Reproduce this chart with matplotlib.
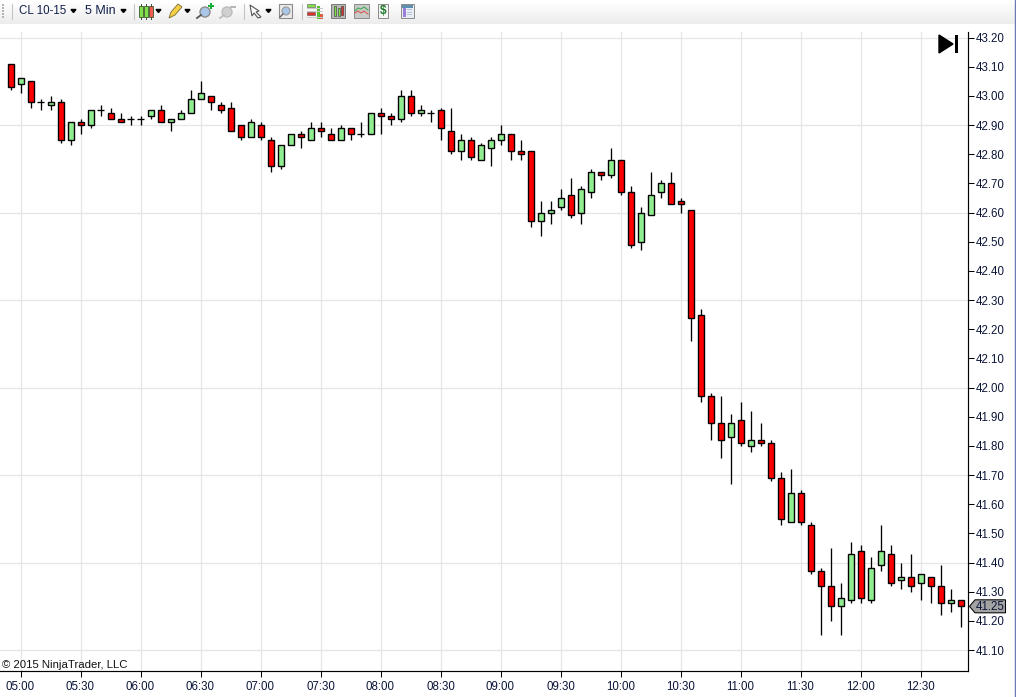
import matplotlib
matplotlib.use("Agg")
import matplotlib.pyplot as plt
from matplotlib.patches import Rectangle, Polygon, Circle
import numpy as np

plt.rcParams['font.family'] = ['Liberation Sans', 'DejaVu Sans']

opens = [43.11,43.04,43.05,42.98,42.97,42.98,42.85,42.91,42.90,42.95,42.94,42.92,42.92,42.92,42.93,42.95,42.91,42.92,42.94,42.99,
         43.00,42.97,42.96,42.90,42.86,42.90,42.85,42.76,42.83,42.87,42.85,42.89,42.87,42.85,42.89,42.87,42.87,42.94,42.93,42.92,
         43.00,42.94,42.94,42.95,42.88,42.81,42.85,42.78,42.82,42.85,42.87,42.81,42.81,42.57,42.60,42.62,42.66,42.60,42.67,42.74,
         42.73,42.78,42.67,42.50,42.59,42.67,42.70,42.64,42.61,42.25,41.97,41.88,41.83,41.89,41.80,41.82,41.81,41.69,41.54,41.64,
         41.53,41.37,41.32,41.25,41.27,41.44,41.27,41.39,41.43,41.34,41.35,41.33,41.35,41.32,41.26,41.27]
highs = [43.11,43.06,43.05,42.99,43.00,42.99,42.91,42.92,42.95,42.97,42.96,42.94,42.93,42.93,42.95,42.97,42.92,42.95,43.02,43.05,
         43.00,42.98,42.98,42.90,42.92,42.91,42.86,42.83,42.87,42.88,42.91,42.91,42.89,42.90,42.89,42.91,42.94,42.96,42.94,43.02,
         43.02,42.97,42.95,42.96,42.96,42.87,42.86,42.84,42.86,42.90,42.87,42.85,42.81,42.64,42.64,42.68,42.72,42.69,42.75,42.74,
         42.82,42.78,42.69,42.62,42.74,42.71,42.74,42.65,42.61,42.27,41.98,41.97,41.91,41.95,41.92,41.88,41.82,41.71,41.72,41.65,
         41.54,41.38,41.45,41.33,41.47,41.46,41.42,41.53,41.46,41.40,41.43,41.36,41.35,41.39,41.31,41.27]
lows = [43.02,43.01,42.96,42.95,42.95,42.84,42.83,42.87,42.89,42.93,42.92,42.91,42.90,42.90,42.92,42.91,42.88,42.92,42.94,42.99,
        42.95,42.94,42.88,42.85,42.86,42.85,42.74,42.75,42.83,42.82,42.85,42.86,42.85,42.85,42.85,42.86,42.87,42.87,42.90,42.91,
        42.93,42.93,42.91,42.85,42.80,42.78,42.78,42.78,42.76,42.83,42.78,42.78,42.55,42.52,42.56,42.61,42.58,42.56,42.65,42.71,
        42.72,42.66,42.48,42.47,42.59,42.65,42.63,42.60,42.16,41.95,41.82,41.76,41.67,41.80,41.78,41.80,41.68,41.53,41.54,41.53,
        41.36,41.15,41.20,41.15,41.26,41.26,41.26,41.37,41.32,41.31,41.30,41.27,41.26,41.22,41.23,41.18]
closes = [43.03,43.06,42.98,42.98,42.98,42.85,42.91,42.90,42.95,42.95,42.92,42.91,42.92,42.92,42.95,42.91,42.92,42.94,42.99,43.01,
          42.98,42.95,42.88,42.86,42.91,42.86,42.76,42.83,42.87,42.86,42.89,42.88,42.85,42.89,42.87,42.87,42.94,42.93,42.92,43.00,
          42.94,42.95,42.94,42.89,42.81,42.85,42.79,42.83,42.85,42.87,42.81,42.80,42.57,42.60,42.61,42.65,42.59,42.68,42.74,42.73,
          42.78,42.67,42.49,42.60,42.66,42.70,42.63,42.63,42.24,41.97,41.88,41.82,41.88,41.81,41.82,41.81,41.69,41.55,41.64,41.54,
          41.37,41.32,41.25,41.28,41.43,41.28,41.38,41.44,41.33,41.35,41.32,41.36,41.32,41.26,41.27,41.25]
time_labels = ["05:00","05:30","06:00","06:30","07:00","07:30","08:00","08:30","09:00",
               "09:30","10:00","10:30","11:00","11:30","12:00","12:30"]
price_ticks = [41.10,41.20,41.30,41.40,41.50,41.60,41.70,41.80,41.90,42.00,
               42.10,42.20,42.30,42.40,42.50,42.60,42.70,42.80,42.90,43.00,43.10,43.20]
grid_prices = [41.10,41.40,41.70,42.00,42.30,42.60,42.90,43.20]
last_price = 41.25
instrument = "CL 10-15"
period = "5 Min"
copyright_text = "\u00a9 2015 NinjaTrader, LLC"

W, H = 1016, 697
fig = plt.figure(figsize=(W/100, H/100), dpi=100, facecolor='white')
L, R, T, B = 0, 968, 32, 671
ax = fig.add_axes([L/W, 1-B/H, (R-L)/W, (B-T)/H])
PX = 10.0
PY = 291.7
X0, Y0 = 10.5, 37.5
ax.set_xlim((L-X0)/PX, (R-X0)/PX)
ax.set_ylim(43.20-(B-Y0)/PY, 43.20+(Y0-T)/PY)

TXT = '#0b1538'
xt = np.arange(len(time_labels))*6+1
ax.set_xticks(xt, time_labels)
ax.set_yticks(price_ticks, [f"{v:.2f}" for v in price_ticks])
ax.yaxis.tick_right()
ax.tick_params(axis='x', length=4.3, width=0.75, pad=3, labelsize=8.3, labelcolor=TXT, color='black')
ax.tick_params(axis='y', length=4.3, width=0.75, pad=1.5, labelsize=8.3, labelcolor=TXT, color='black')
ax.xaxis.grid(True, color='#e6e6e6', lw=0.9, zorder=0)
for g in grid_prices:
    ax.axhline(g, color='#e6e6e6', lw=0.9, zorder=0)
ax.set_axisbelow(True)
for s in ('left', 'top'):
    ax.spines[s].set_visible(False)
for s in ('right', 'bottom'):
    ax.spines[s].set_linewidth(0.85)

for i, (o, h, l, c) in enumerate(zip(opens, highs, lows, closes)):
    ax.vlines(i, l, h, color='black', lw=0.95, zorder=3)
    if abs(o-c) < 0.001:
        ax.hlines(o, i-0.33, i+0.33, color='black', lw=0.95, zorder=4)
    else:
        ax.add_patch(Rectangle((i-0.3, min(o, c)), 0.6, abs(o-c),
                               facecolor='#ff0000' if c < o else '#90ee90',
                               edgecolor='black', lw=1.0, zorder=4))

ax.text(1.5/(R-L), 1-(665-T)/(B-T), copyright_text, transform=ax.transAxes,
        fontsize=8.2, color='#111111', ha='left', va='center')

# overlay in pixel coordinates: toolbar, marker and window chrome
ov = fig.add_axes([0, 0, 1, 1], facecolor='none', zorder=10)
ov.set_xlim(0, W); ov.set_ylim(H, 0); ov.axis('off')

grad = np.linspace(1.0, 0.925, 24).reshape(-1, 1)
ov.imshow(grad, extent=(0, W, 24, 0), cmap='gray', vmin=0, vmax=1, aspect='auto', zorder=1)
ov.set_xlim(0, W); ov.set_ylim(H, 0)
ov.add_patch(Rectangle((1015, 0), 1, H, color='#6a78b4', zorder=2))

def rect(x, y, w, h, fc, ec='none', lw=0.7):
    ov.add_patch(Rectangle((x, y), w, h, facecolor=fc, edgecolor=ec, lw=lw, zorder=3))
def tri(x, y=11):
    ov.add_patch(Polygon([(x-2.5, y-1.5), (x+2.5, y-1.5), (x, y+1.5)], color='black', zorder=3))
def sep(x):
    ov.plot([x, x], [4, 19], color='#c4c4c4', lw=0.8, zorder=3)

for yy in (4, 7, 10, 13, 16):
    rect(2, yy, 1.5, 1.5, '#b5b5b5')
sep(11.5); sep(133.5); sep(243.5); sep(301.5)
ov.text(19, 11, instrument, fontsize=8.3, color='#12214a', va='center', ha='left', zorder=4)
tri(73.5)
ov.text(85, 11, period, fontsize=9, color='#12214a', va='center', ha='left', zorder=4)
tri(123.5)

# chart-style icon
for x, c in ((141, '#7fe04a'), (146, '#7fe04a'), (151, '#f05a50')):
    ov.plot([x, x], [4, 19], color='#444444', lw=0.7, zorder=3)
    rect(x-2, 6, 4, 11, c, '#3c5a2a', 0.6)
tri(158.5)
# pencil
ov.add_patch(Polygon([(169, 18), (171, 12), (178, 4), (182, 7), (175, 15)], facecolor='#f4cf45', edgecolor='#7a6a30', lw=0.6, zorder=3))
tri(187.5)
# magnifiers
ov.add_patch(Circle((205, 12), 5, facecolor='#a9c6e6', edgecolor='#8c8c8c', lw=1, zorder=3))
ov.plot([197, 201], [18, 15], color='#555555', lw=1.3, zorder=3)
rect(208, 5, 6, 2, '#16b034'); rect(210, 3, 2, 6, '#16b034')
ov.add_patch(Circle((227, 12), 5, facecolor='#d0d0d0', edgecolor='#bdbdbd', lw=1, zorder=3))
ov.plot([220, 224], [18, 15], color='#bdbdbd', lw=1.3, zorder=3)
rect(230, 6, 6, 1.5, '#b8b8b8')
# cursor
ov.add_patch(Polygon([(250, 5), (259, 11), (256, 12), (261, 17), (258, 18), (254, 13), (252, 16)],
                     facecolor='white', edgecolor='#555555', lw=0.8, zorder=3))
tri(268.5)
# zoom box
rect(279, 4, 13, 14, '#ececec', '#8c8c8c', 0.8)
ov.add_patch(Circle((286, 11), 4, facecolor='#a9c6e6', edgecolor='#9a9a9a', lw=0.8, zorder=3))
ov.plot([280, 283], [17, 14], color='#666666', lw=1, zorder=3)
# strategy/bars icons
rect(307, 4, 8, 3, '#7fe04a', '#555555', 0.4); rect(307, 12, 8, 3, '#e0302a', '#555555', 0.4)
rect(317, 6, 3, 13, '#55c030'); rect(320, 14, 2.5, 5, '#e05a40')
for yy in (8, 11, 17):
    rect(307, yy, 16, 0.8, '#c9c9c9')
rect(331, 4, 14, 14, '#b9b9b9', '#777777', 0.7)
for x, c, y0, h in ((335, '#7fe04a', 6, 10), (338.5, '#7fe04a', 8, 8), (342, '#e0302a', 6, 9)):
    rect(x-1, y0, 2.4, h, c, '#333333', 0.4)
rect(354, 4, 15, 14, '#c8ccc8', '#8a8a8a', 0.7)
ov.plot([355, 358, 361, 364, 368], [11, 8, 9, 7, 10], color='#44aa55', lw=0.8, zorder=4)
ov.plot([355, 358, 361, 364, 368], [13, 11, 13, 11, 14], color='#dd5555', lw=0.8, zorder=4)
rect(378, 4, 10, 14, '#f5f5f5', '#8a8a8a', 0.7)
ov.text(383.2, 11.2, "$", fontsize=8.5, fontweight='bold', color='#1d7a28', ha='center', va='center', zorder=4)
rect(401, 4, 13, 14, '#e8eef4', '#8a8a8a', 0.7)
rect(402, 5, 11, 2.5, '#5f8fb0'); rect(403, 8, 2.5, 9, '#9a7fd8')
for yy in (9, 11.5, 14):
    rect(407, yy, 5, 1, '#b4c4d8')

# jump-to-end button
ov.add_patch(Polygon([(939, 35), (939, 53), (953, 44)], color='black', zorder=4))
rect(955, 35, 3, 18, 'black')

# last price marker
ly = Y0 + (43.20-last_price)*PY
ov.add_patch(Polygon([(969.5, ly), (975, ly-6.5), (1005.5, ly-6.5), (1005.5, ly+6.5), (975, ly+6.5)],
                     facecolor='#a3a3a3', edgecolor='black', lw=0.75, zorder=4))
ov.text(990.5, ly+0.2, f"{last_price:.2f}", fontsize=8.3, color=TXT, ha='center', va='center', zorder=5)

fig.savefig('out.png', dpi=100)
